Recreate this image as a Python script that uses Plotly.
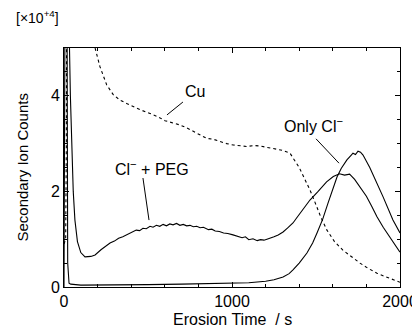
import plotly.graph_objects as go

# Cu (dotted)
cu_t = [0, 10, 14, 17, 60, 120, 160, 185, 214, 254, 294, 333, 373, 413, 460, 512, 560, 601, 645, 690, 730, 770, 810, 849, 889, 929, 968, 1008, 1050, 1087, 1130, 1167, 1210, 1246, 1300, 1345, 1365, 1400, 1430, 1464, 1500, 1530, 1565, 1610, 1660, 1710, 1762, 1810, 1863, 1910, 1950, 2000]
cu_v = [0.9, 1.0, 3.0, 8.0, 8.0, 7.0, 5.6, 5.0, 4.61, 4.23, 4.02, 3.91, 3.84, 3.77, 3.70, 3.63, 3.56, 3.48, 3.44, 3.39, 3.33, 3.25, 3.18, 3.11, 3.09, 3.04, 3.00, 2.97, 2.95, 2.94, 2.96, 2.95, 2.92, 2.90, 2.86, 2.80, 2.70, 2.50, 2.28, 2.03, 1.72, 1.45, 1.19, 0.95, 0.77, 0.63, 0.50, 0.39, 0.29, 0.22, 0.17, 0.10]

# Cl- + PEG (solid)
peg_t = [0, 30, 38, 45, 55, 65, 80, 100, 125, 160, 185, 220, 250, 274, 300, 325, 350, 380, 411, 430, 450, 470, 490, 512, 530, 550, 570, 590, 610, 630, 649, 670, 690, 710, 730, 750, 770, 790, 810, 830, 860, 880, 900, 925, 950, 975, 1006, 1030, 1060, 1080, 1100, 1125, 1150, 1170, 1190, 1208, 1230, 1250, 1275, 1304, 1330, 1363, 1390, 1420, 1464, 1510, 1563, 1603, 1640, 1670, 1700, 1730, 1762, 1800, 1830, 1863, 1900, 1950, 2000]
peg_v = [9.0, 5.5, 4.0, 3.0, 2.0, 1.4, 0.95, 0.72, 0.63, 0.64, 0.67, 0.78, 0.86, 0.92, 0.96, 1.02, 1.05, 1.10, 1.15, 1.19, 1.18, 1.23, 1.22, 1.27, 1.25, 1.29, 1.27, 1.31, 1.28, 1.32, 1.30, 1.33, 1.29, 1.31, 1.28, 1.29, 1.26, 1.27, 1.24, 1.25, 1.20, 1.21, 1.17, 1.16, 1.13, 1.12, 1.09, 1.07, 1.03, 1.05, 0.99, 1.01, 0.97, 0.99, 0.98, 1.00, 1.02, 1.05, 1.09, 1.15, 1.23, 1.34, 1.47, 1.62, 1.82, 1.99, 2.20, 2.31, 2.37, 2.34, 2.36, 2.25, 2.10, 1.90, 1.70, 1.47, 1.25, 1.00, 0.73]

# Only Cl- (solid)
cl_t = [0, 8, 18, 22, 30, 40, 100, 300, 500, 700, 900, 1000, 1100, 1200, 1250, 1304, 1340, 1363, 1400, 1446, 1480, 1506, 1540, 1571, 1600, 1625, 1650, 1684, 1710, 1720, 1735, 1750, 1765, 1780, 1820, 1863, 1900, 1958, 2000]
cl_v = [0.0, 8.0, 6.0, 0.5, 0.08, 0.06, 0.04, 0.04, 0.05, 0.06, 0.07, 0.08, 0.09, 0.12, 0.15, 0.21, 0.28, 0.36, 0.50, 0.71, 0.92, 1.13, 1.42, 1.75, 2.05, 2.30, 2.48, 2.66, 2.76, 2.80, 2.77, 2.84, 2.82, 2.76, 2.50, 2.18, 1.88, 1.40, 1.13]

x_ticks = [0, 1000, 2000]
y_ticks = [0, 2, 4]

FONT = "Liberation Sans, Arial, sans-serif"

fig = go.Figure()
fig.add_trace(go.Scatter(x=cu_t, y=cu_v, mode="lines",
                         line=dict(color="black", width=1.1, dash="dot")))
fig.add_trace(go.Scatter(x=peg_t, y=peg_v, mode="lines",
                         line=dict(color="black", width=1.1)))
fig.add_trace(go.Scatter(x=cl_t, y=cl_v, mode="lines",
                         line=dict(color="black", width=1.1)))

# leader lines
leaders = [((613, 3.60), (708, 3.87)),
           ((506, 1.40), (470, 2.28)),
           ((1637, 2.59), (1500, 3.10))]
for (x0, y0), (x1, y1) in leaders:
    fig.add_shape(type="line", x0=x0, y0=y0, x1=x1, y1=y1,
                  line=dict(color="black", width=1))

labels = [("Cu", 780, 4.10),
          ("Cl<sup>−</sup> + PEG", 525, 2.50),
          ("Only Cl<sup>−</sup>", 1487, 3.38)]
for txt, x, y in labels:
    fig.add_annotation(x=x, y=y, text=txt, showarrow=False,
                       font=dict(size=16, color="black", family=FONT))

fig.add_annotation(xref="paper", yref="paper", x=-0.08, y=1.13,
                   text="[×10<sup>+4</sup>]", showarrow=False,
                   xanchor="center", yanchor="middle",
                   font=dict(size=14, color="black", family=FONT))
fig.add_annotation(xref="paper", yref="paper", x=0.5, y=-0.136,
                   text="Erosion Time  / s", showarrow=False,
                   xanchor="center", yanchor="middle",
                   font=dict(size=16, color="black", family=FONT))
fig.add_annotation(xref="paper", yref="paper", x=-0.125, y=0.5,
                   text="Secondary Ion Counts", showarrow=False, textangle=-90,
                   xanchor="center", yanchor="middle",
                   font=dict(size=15, color="black", family=FONT))

axis_common = dict(showline=True, linecolor="black", linewidth=1, mirror="ticks",
                   ticks="inside", ticklen=5, tickcolor="black", tickwidth=1,
                   showgrid=False, zeroline=False, automargin=False,
                   tickfont=dict(size=16, color="black", family=FONT))

fig.update_xaxes(range=[0, 2000], tickvals=x_ticks, ticktext=[str(v) for v in x_ticks],
                 minor=dict(dtick=200, ticks="inside", ticklen=3, tickcolor="black"),
                 **axis_common)
fig.update_yaxes(range=[0, 5], tickvals=y_ticks, ticktext=[str(v) for v in y_ticks],
                 minor=dict(dtick=0.5, ticks="inside", ticklen=3, tickcolor="black"),
                 **axis_common)

# page body has an 8px margin, so the figure is 8px smaller and margins shifted
fig.update_layout(width=412, height=320, showlegend=False,
                  margin=dict(l=56, r=20, t=40, b=41),
                  paper_bgcolor="white", plot_bgcolor="white",
                  font=dict(family=FONT, color="black"))

fig.write_html("out.html")
